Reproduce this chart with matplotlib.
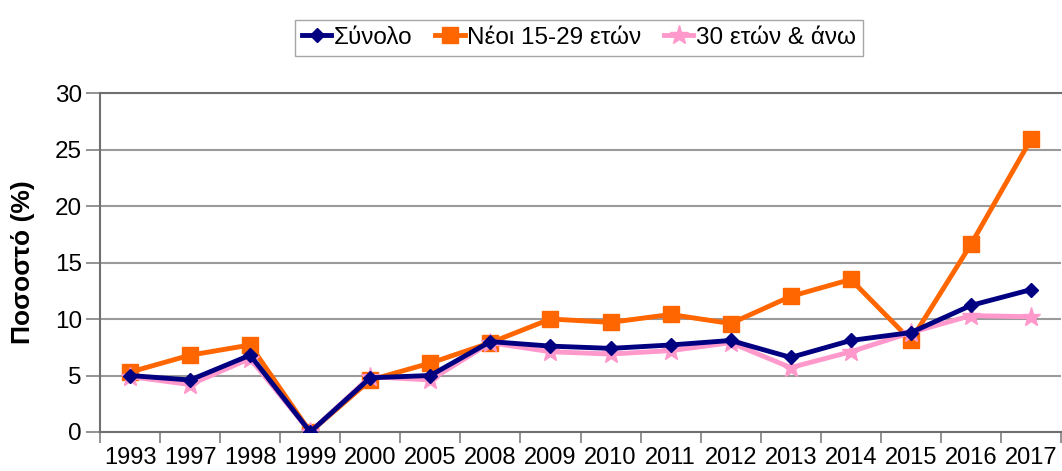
import matplotlib.pyplot as plt
import numpy as np

plt.rcParams['font.family'] = ['Liberation Sans', 'DejaVu Sans']

years = ['1993', '1997', '1998', '1999', '2000', '2005', '2008', '2009',
         '2010', '2011', '2012', '2013', '2014', '2015', '2016', '2017']
total = [5.0, 4.6, 6.8, 0.0, 4.8, 5.0, 8.0, 7.6, 7.4, 7.7, 8.1, 6.6, 8.1, 8.8, 11.2, 12.6]
young = [5.3, 6.8, 7.7, 0.0, 4.6, 6.1, 7.9, 10.0, 9.7, 10.4, 9.6, 12.0, 13.5, 8.1, 16.6, 25.9]
older = [4.9, 4.2, 6.5, 0.0, 4.9, 4.6, 7.9, 7.1, 6.9, 7.2, 7.9, 5.7, 7.1, 8.8, 10.3, 10.2]
y_ticks = [0, 5, 10, 15, 20, 25, 30]

fig = plt.figure(figsize=(10.62, 4.71), dpi=100)
ax = fig.add_axes([100 / 1062, 39 / 471, 961 / 1062, 339 / 471])

x = np.arange(len(years))
ax.plot(x, older, color='#ff99cc', lw=3.5, marker='*', ms=14, label='30 ετών & άνω', zorder=3)
ax.plot(x, total, color='#000080', lw=3.5, marker='D', ms=7, label='Σύνολο', zorder=4)
ax.plot(x, young, color='#ff6600', lw=3.5, marker='s', ms=11, label='Νέοι 15-29 ετών', zorder=2)

ax.set_xlim(-0.5, len(years) - 0.5)
ax.set_ylim(0, 30)
ax.set_yticks(y_ticks)
ax.set_xticks(x)
ax.set_xticklabels(years)
ax.set_xticks(np.arange(len(years) + 1) - 0.5, minor=True)
ax.tick_params(axis='x', which='major', length=0, labelsize=17, pad=11)
ax.tick_params(axis='x', which='minor', length=8, width=1.2, color='#808080', direction='out')
ax.tick_params(axis='y', length=10, width=1.2, color='#808080', labelsize=17.5, pad=3)
ax.yaxis.grid(True, color='#9a9a9a', lw=1.5)
ax.set_axisbelow(True)
for s in ax.spines.values():
    s.set_color('#707070')
    s.set_linewidth(1.5)
ax.spines['right'].set_visible(False)

ax.set_ylabel('Ποσοστό (%)', fontsize=19, fontweight='bold', labelpad=14)

handles, labels = ax.get_legend_handles_labels()
order = [1, 2, 0]
fig.legend([handles[i] for i in order], [labels[i] for i in order],
           loc='center', bbox_to_anchor=(579 / 1062, 1 - 38 / 471), ncol=3,
           fontsize=17.5, frameon=True, fancybox=False, edgecolor='#909090',
           handlelength=1.2, handletextpad=0.1, columnspacing=0.95,
           borderpad=0.3, markerscale=1.0)

fig.savefig('out.png', dpi=100)
